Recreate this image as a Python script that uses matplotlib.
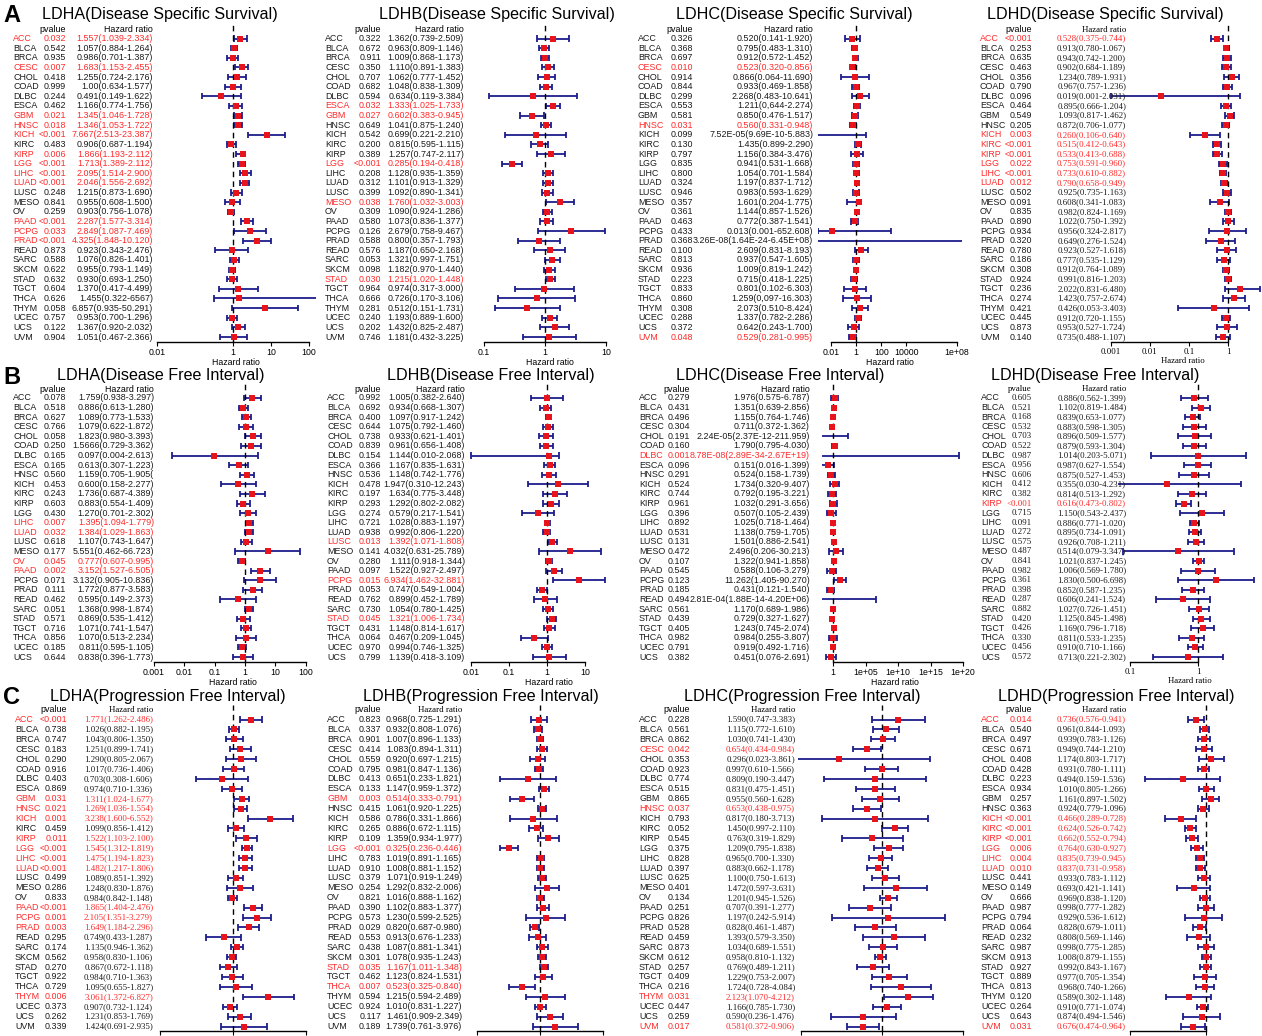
import re
import numpy as np
import matplotlib.pyplot as plt
from matplotlib.transforms import blended_transform_factory

cancers_32 = ["ACC", "BLCA", "BRCA", "CESC", "CHOL", "COAD", "DLBC", "ESCA", "GBM", "HNSC",
              "KICH", "KIRC", "KIRP", "LGG", "LIHC", "LUAD", "LUSC", "MESO", "OV", "PAAD",
              "PCPG", "PRAD", "READ", "SARC", "SKCM", "STAD", "TGCT", "THCA", "THYM", "UCEC",
              "UCS", "UVM"]
cancers_28 = ["ACC", "BLCA", "BRCA", "CESC", "CHOL", "COAD", "DLBC", "ESCA", "HNSC", "KICH",
              "KIRC", "KIRP", "LGG", "LIHC", "LUAD", "LUSC", "MESO", "OV", "PAAD", "PCPG",
              "PRAD", "READ", "SARC", "STAD", "TGCT", "THCA", "UCEC", "UCS"]

# ---- Disease Specific Survival ----
p_ldha_dss = ["0.032", "0.542", "0.935", "0.007", "0.418", "0.999", "0.244", "0.462", "0.021", "0.018",
              "<0.001", "0.483", "0.006", "<0.001", "<0.001", "<0.001", "0.248", "0.841", "0.259", "<0.001",
              "0.033", "<0.001", "0.873", "0.588", "0.622", "0.632", "0.604", "0.626", "0.058", "0.757",
              "0.122", "0.904"]
hr_ldha_dss = ["1.557(1.039-2.334)", "1.057(0.884-1.264)", "0.986(0.701-1.387)", "1.683(1.153-2.455)",
               "1.255(0.724-2.176)", "1.00(0.634-1.577)", "0.491(0.149-1.622)", "1.166(0.774-1.756)",
               "1.345(1.046-1.728)", "1.346(1.053-1.722)", "7.667(2.513-23.387)", "0.906(0.687-1.194)",
               "1.866(1.193-2.112)", "1.713(1.389-2.112)", "2.095(1.514-2.900)", "2.046(1.556-2.692)",
               "1.215(0.873-1.690)", "0.955(0.608-1.500)", "0.903(0.756-1.078)", "2.287(1.577-3.314)",
               "2.849(1.087-7.469)", "4.325(1.848-10.120)", "0.923(0.343-2.476)", "1.076(0.826-1.401)",
               "0.955(0.793-1.149)", "0.930(0.693-1.250)", "1.370(0.417-4.499)", "1.455(0.322-6567)",
               "6.857(0.935-50.291)", "0.953(0.700-1.296)", "1.367(0.920-2.032)", "1.051(0.467-2.366)"]

p_ldhb_dss = ["0.322", "0.672", "0.911", "0.350", "0.707", "0.682", "0.594", "0.032", "0.027", "0.649",
              "0.542", "0.200", "0.389", "<0.001", "0.208", "0.312", "0.399", "0.038", "0.309", "0.580",
              "0.126", "0.588", "0.576", "0.053", "0.098", "0.030", "0.964", "0.666", "0.281", "0.240",
              "0.202", "0.746"]
hr_ldhb_dss = ["1.362(0.739-2.509)", "0.963(0.809-1.146)", "1.009(0.868-1.173)", "1.110(0.891-1.383)",
               "1.062(0.777-1.452)", "1.048(0.838-1.309)", "0.634(0.119-3.384)", "1.333(1.025-1.733)",
               "0.602(0.383-0.945)", "1.041(0.875-1.240)", "0.699(0.221-2.210)", "0.815(0.595-1.115)",
               "1.257(0.747-2.117)", "0.285(0.194-0.418)", "1.128(0.935-1.359)", "1.101(0.913-1.329)",
               "1.092(0.890-1.341)", "1.760(1.032-3.003)", "1.090(0.924-1.286)", "1.073(0.836-1.377)",
               "2.679(0.758-9.467)", "0.800(0.357-1.793)", "1.187(0.650-2.168)", "1.321(0.997-1.751)",
               "1.182(0.970-1.440)", "1.215(1.020-1.448)", "0.974(0.317-3.000)", "0.726(0.170-3.106)",
               "0.512(0.151-1.731)", "1.193(0.889-1.600)", "1.432(0.825-2.487)", "1.181(0.432-3.225)"]

p_ldhc_dss = ["0.326", "0.368", "0.697", "0.010", "0.914", "0.844", "0.299", "0.553", "0.581", "0.031",
              "0.099", "0.130", "0.797", "0.835", "0.800", "0.324", "0.946", "0.357", "0.361", "0.463",
              "0.433", "0.368", "0.100", "0.813", "0.936", "0.223", "0.833", "0.860", "0.308", "0.288",
              "0.372", "0.048"]
hr_ldhc_dss = ["0.520(0.141-1.920)", "0.795(0.483-1.310)", "0.912(0.572-1.452)", "0.523(0.320-0.856)",
               "0.866(0.064-11.690)", "0.933(0.469-1.858)", "2.268(0.483-10.641)", "1.211(0,644-2.274)",
               "0.850(0.476-1.517)", "0.560(0.331-0.948)", "7.52E-05(9.69E-10-5.883)", "1.435(0.899-2.290)",
               "1.156(0.384-3.476)", "0.941(0.531-1.668)", "1.054(0.701-1.584)", "1.197(0.837-1.712)",
               "0.983(0.593-1.629)", "1.601(0.204-1.775)", "1.144(0.857-1.526)", "0.772(0.387-1.541)",
               "0.013(0.001-652.608)", "3.26E-08(1.64E-24-6.45E+08)", "2.609(0.831-8.193)", "0.937(0.547-1.605)",
               "1.009(0.819-1.242)", "0.715(0.418-1.225)", "0.801(0.102-6.303)", "1.259(0,097-16.303)",
               "2.073(0.510-8.424)", "1.337(0.782-2.286)", "0.642(0.243-1.700)", "0.529(0.281-0.995)"]

p_ldhd_dss = ["<0.001", "0.253", "0.635", "0.463", "0.356", "0.790", "0.096", "0.464", "0.549", "0.205",
              "0.003", "<0.001", "<0.001", "0.022", "<0.001", "0.012", "0.502", "0.091", "0.835", "0.890",
              "0.934", "0.320", "0.780", "0.186", "0.308", "0.924", "0.236", "0.274", "0.421", "0.445",
              "0.873", "0.140"]
hr_ldhd_dss = ["0.528(0.375-0.744)", "0.913(0.780-1.067)", "0.943(0.742-1.200)", "0.902(0.684-1.189)",
               "1.234(0.789-1.931)", "0.967(0.757-1.236)", "0.019(0.001-2.031)", "0.895(0.666-1.204)",
               "1.093(0.817-1.462)", "0.872(0.706-1.077)", "0.260(0.106-0.640)", "0.515(0.412-0.643)",
               "0.533(0.413-0.688)", "0.753(0.591-0.960)", "0.733(0.610-0.882)", "0.790(0.658-0.949)",
               "0.925(0.735-1.163)", "0.608(0.341-1.083)", "0.982(0.824-1.169)", "1.022(0.750-1.392)",
               "0.956(0.324-2.817)", "0.649(0.276-1.524)", "0.923(0.527-1.618)", "0.777(0.535-1.129)",
               "0.912(0.764-1.089)", "0.991(0.816-1.203)", "2.022(0.831-6.480)", "1.423(0.757-2.674)",
               "0.426(0.053-3.403)", "0.912(0.720-1.155)", "0.953(0.527-1.724)", "0.735(0.488-1.107)"]

# ---- Disease Free Interval ----
p_ldha_dfi = ["0.078", "0.518", "0.627", "0.766", "0.058", "0.250", "0.165", "0.165", "0.560", "0.453",
              "0.243", "0.603", "0.430", "0.007", "0.032", "0.618", "0.177", "0.045", "0.002", "0.071",
              "0.111", "0.462", "0.051", "0.571", "0.716", "0.856", "0.185", "0.644"]
hr_ldha_dfi = ["1.759(0.938-3.297)", "0.886(0.613-1.280)", "1.089(0.773-1.533)", "1.079(0.622-1.872)",
               "1.823(0.980-3.393)", "1.5666(0.729-3.362)", "0.097(0.004-2.613)", "0.613(0.307-1.223)",
               "1.159(0.705-1.905(", "0.600(0.158-2.277)", "1.736(0.687-4.389)", "0.883(0.554-1.409)",
               "1.270(0.701-2.302)", "1.395(1.094-1.779)", "1.384(1.029-1.863)", "1.107(0.743-1.647)",
               "5.551(0.462-66.723)", "0.777(0.607-0.995)", "3.152(1.527-6.505)", "3.132(0.905-10.836)",
               "1.772(0.877-3.583)", "0.595(0.149-2.373)", "1.368(0.998-1.874)", "0.869(0.535-1.412)",
               "1.071(0.741-1.547)", "1.070(0.513-2.234)", "0.811(0.595-1.105)", "0.838(0.396-1.773)"]

p_ldhb_dfi = ["0.992", "0.692", "0.400", "0.644", "0.738", "0.839", "0.154", "0.366", "0.536", "0.478",
              "0.197", "0.293", "0.274", "0.721", "0.938", "0.013", "0.141", "0.280", "0.097", "0.015",
              "0.053", "0.762", "0.730", "0.045", "0.431", "0.064", "0.970", "0.799"]
hr_ldhb_dfi = ["1.005(0.382-2.640)", "0.934(0.668-1.307)", "1.097(0.917-1.242)", "1.075(0.792-1.460)",
               "0.933(0.621-1.401)", "0.961(0.656-1.408)", "1.144(0.010-2.068)", "1.167(0.835-1.631)",
               "1.148(0.742-1.776)", "1.947(0.310-12.243)", "1.634(0.775-3.448)", "1.292(0.802-2.082)",
               "0.579(0.217-1.541)", "1.028(0.883-1.197)", "0.992(0.806-1.220)", "1.392(1.071-1.808)",
               "4.032(0.631-25.789)", "1.111(0.918-1.344)", "1.522(0.927-2.497)", "6.934(1.462-32.881)",
               "0.747(0.549-1.004)", "0.899(0.452-1.789)", "1.054(0.780-1.425)", "1.321(1.006-1.734)",
               "1.148(0.814-1.617)", "0.467(0.209-1.045)", "0.994(0.746-1.325)", "1.139(0.418-3.109)"]

p_ldhc_dfi = ["0.279", "0.431", "0.496", "0.304", "0.191", "0.160", "0.001", "0.096", "0.291", "0.524",
              "0.744", "0.961", "0.396", "0.892", "0.531", "0.131", "0.472", "0.107", "0.545", "0.123",
              "0.185", "0.494", "0.561", "0.439", "0.405", "0.982", "0.791", "0.382"]
hr_ldhc_dfi = ["1.976(0.575-6.787)", "1.351(0.639-2.856)", "1.155(0.764-1.746)", "0.711(0.372-1.362)",
               "2.24E-05(2.37E-12-211.959)", "1.790(0.795-4.030)", "8.78E-08(2.89E-34-2.67E+19)",
               "0.151(0.016-1.399)", "0.524(0.158-1.739)", "1.734(0.320-9.407)", "0.792(0.195-3.221)",
               "1.032(0.291-3.656)", "0.507(0.105-2.439)", "1.025(0.718-1.464)", "1.138(0.759-1.705)",
               "1.501(0.886-2.541)", "2.496(0.206-30.213)", "1.322(0.941-1.858)", "0.588(0.106-3.279)",
               "11.262(1.405-90.270)", "0.431(0.121-1.540)", "2.81E-04(1.88E-14-4.20E+06)",
               "1.170(0.689-1.986)", "0.729(0.327-1.627)", "1.243(0.745-2.074)", "0.984(0.255-3.807)",
               "0.919(0.492-1.716)", "0.451(0.076-2.691)"]

p_ldhd_dfi = ["0.605", "0.521", "0.168", "0.532", "0.703", "0.522", "0.987", "0.956", "0.606", "0.412",
              "0.382", "<0.001", "0.715", "0.091", "0.272", "0.575", "0.487", "0.841", "0.982", "0.361",
              "0.398", "0.287", "0.882", "0.420", "0.426", "0.330", "0.456", "0.572"]
hr_ldhd_dfi = ["0.886(0.562-1.399)", "1.102(0.819-1.484)", "0.839(0.653-1.077)", "0.883(0.598-1.305)",
               "0.896(0.509-1.577)", "0.879(0.593-1.304)", "1.014(0.203-5.071)", "0.987(0.627-1.554)",
               "0.875(0.527-1.453)", "0.355(0.030-4.231)", "0.814(0.513-1.292)", "0.616(0.473-0.802)",
               "1.150(0.543-2.437)", "0.886(0.771-1.020)", "0.895(0.734-1.091)", "0.926(0.708-1.211)",
               "0.514(0.079-3.347)", "1.021(0.837-1.245)", "1.006(0.569-1.780)", "1.830(0.500-6.698)",
               "0.852(0.587-1.235)", "0.606(0.241-1.524)", "1.027(0.726-1.451)", "1.125(0.845-1.498)",
               "1.169(0.796-1.718)", "0.811(0.533-1.235)", "0.910(0.710-1.166)", "0.713(0.221-2.302)"]

# ---- Progression Free Interval ----
p_ldha_pfi = ["<0.001", "0.738", "0.747", "0.183", "0.290", "0.916", "0.403", "0.869", "0.031", "0.021",
              "0.001", "0.459", "0.011", "<0.001", "<0.001", "<0.001", "0.499", "0.286", "0.833", "<0.001",
              "0.001", "0.003", "0.295", "0.174", "0.562", "0.270", "0.922", "0.729", "0.006", "0.373",
              "0.262", "0.339"]
hr_ldha_pfi = ["1.771(1.262-2.486)", "1.026(0.882-1.195)", "1.043(0.806-1.350)", "1.251(0.899-1.741)",
               "1.290(0.805-2.067)", "1.017(0.736-1.406)", "0.703(0.308-1.606)", "0.974(0.710-1.336)",
               "1.311(1.024-1.677)", "1.269(1.036-1.554)", "3.238(1.600-6.552)", "1.099(0.856-1.412)",
               "1.522(1.103-2.100)", "1.545(1.312-1.819)", "1.475(1.194-1.823)", "1.482(1.217-1.806)",
               "1.089(0.851-1.392)", "1.248(0.830-1.876)", "0.984(0.842-1.148)", "1.865(1.404-2.476)",
               "2.105(1.351-3.279)", "1.649(1.184-2.296)", "0.749(0.433-1.287)", "1.135(0.946-1.362)",
               "0.958(0.830-1.106)", "0.867(0.672-1.118)", "0.984(0.710-1.363)", "1.095(0.655-1.827)",
               "3.061(1.372-6.827)", "0.907(0.732-1.124)", "1.231(0.853-1.769)", "1.424(0.691-2.935)"]

p_ldhb_pfi = ["0.823", "0.337", "0.901", "0.414", "0.559", "0.795", "0.413", "0.133", "0.003", "0.415",
              "0.586", "0.265", "0.109", "<0.001", "0.783", "0.910", "0.379", "0.254", "0.821", "0.390",
              "0.573", "0.029", "0.553", "0.438", "0.301", "0.035", "0.462", "0.007", "0.594", "0.924",
              "0.117", "0.189"]
hr_ldhb_pfi = ["0.968(0.725-1.291)", "0.932(0.808-1.076)", "1.007(0.896-1.133)", "1.083(0.894-1.311)",
               "0.920(0.697-1.215)", "0.981(0.847-1.136)", "0.651(0.233-1.821)", "1.147(0.959-1.372)",
               "0.514(0.333-0.791)", "1.061(0.920-1.225)", "0.786(0.331-1.866)", "0.886(0.672-1.115)",
               "1.359(0.934-1.977)", "0.325(0.236-0.446)", "1.019(0.891-1.165)", "1.008(0.881-1.152)",
               "1.071(0.919-1.249)", "1.292(0.832-2.006)", "1.016(0.888-1.162)", "1.102(0.883-1.377)",
               "1.230(0.599-2.525)", "0.820(0.687-0.980)", "0.913(0.676-1.233)", "1.087(0.881-1.341)",
               "1.078(0.935-1.243)", "1.167(1.011-1.348)", "1.123(0.824-1.531)", "0.523(0.325-0.840)",
               "1.215(0.594-2.489)", "1.010(0.831-1.227)", "1.461(0.909-2.349)", "1.739(0.761-3.976)"]

p_ldhc_pfi = ["0.228", "0.561", "0.862", "0.042", "0.353", "0.923", "0.774", "0.515", "0.865", "0.037",
              "0.793", "0.052", "0.545", "0.375", "0.828", "0.397", "0.625", "0.401", "0.134", "0.251",
              "0.826", "0.528", "0.459", "0.873", "0.612", "0.257", "0.409", "0.216", "0.031", "0.447",
              "0.259", "0.017"]
hr_ldhc_pfi = ["1.590(0.747-3.383)", "1.115(0.772-1.610)", "1.030(0.741-1.430)", "0.654(0.434-0.984)",
               "0.296(0.023-3.861)", "0.997(0.610-1.566)", "0.809(0.190-3.447)", "0.831(0.475-1.451)",
               "0.955(0.560-1.628)", "0.653(0.438-0.975)", "0.817(0.180-3.713)", "1.450(0.997-2.110)",
               "0.763(0.319-1.829)", "1.209(0.795-1.838)", "0.965(0.700-1.330)", "0.883(0.662-1.178)",
               "1.100(0.750-1.613)", "1.472(0.597-3.631)", "1.201(0.945-1.526)", "0.707(0.391-1.277)",
               "1.197(0.242-5.914)", "0.828(0.461-1.487)", "1.393(0.579-3.350)", "1.034(0.689-1.551)",
               "0.958(0.810-1.132)", "0.769(0.489-1.211)", "1.229(0.753-2.007)", "1.724(0.728-4.084)",
               "2.123(1.070-4.212)", "1.166(0.785-1.730)", "0.590(0.236-1.476)", "0.581(0.372-0.906)"]

p_ldhd_pfi = ["0.014", "0.540", "0.497", "0.671", "0.408", "0.428", "0.223", "0.934", "0.257", "0.363",
              "<0.001", "<0.001", "<0.001", "0.006", "0.004", "0.010", "0.441", "0.149", "0.666", "0.987",
              "0.794", "0.064", "0.232", "0.987", "0.913", "0.927", "0.889", "0.813", "0.120", "0.264",
              "0.643", "0.031"]
hr_ldhd_pfi = ["0.736(0.576-0.941)", "0.961(0.844-1.093)", "0.939(0.783-1.126)", "0.949(0.744-1.210)",
               "1.174(0.803-1.717)", "0.931(0.780-1.111)", "0.494(0.159-1.536)", "1.010(0.805-1.266)",
               "1.161(0.897-1.502)", "0.924(0.779-1.096)", "0.466(0.289-0.728)", "0.624(0.526-0.742)",
               "0.662(0.552-0.794)", "0.764(0.630-0.927)", "0.835(0.739-0.945)", "0.837(0.731-0.958)",
               "0.933(0.783-1.112)", "0.693(0.421-1.141)", "0.969(0.838-1.120)", "0.998(0.777-1.282)",
               "0.929(0.536-1.612)", "0.828(0.679-1.011)", "0.808(0.569-1.146)", "0.998(0.775-1.285)",
               "1.008(0.879-1.155)", "0.992(0.843-1.167)", "0.977(0.705-1.354)", "0.968(0.740-1.266)",
               "0.589(0.302-1.148)", "0.910(0.771-1.074)", "0.874(0.494-1.546)", "0.676(0.474-0.964)"]

# rows printed in red (significant) per panel
sig_ldha_dss = ["ACC", "CESC", "GBM", "HNSC", "KICH", "KIRP", "LGG", "LIHC", "LUAD", "PAAD", "PCPG", "PRAD"]
sig_ldhb_dss = ["ESCA", "GBM", "LGG", "MESO", "STAD"]
sig_ldhc_dss = ["CESC", "HNSC", "UVM"]
sig_ldhd_dss = ["ACC", "KICH", "KIRC", "KIRP", "LGG", "LIHC", "LUAD"]
sig_ldha_dfi = ["LIHC", "LUAD", "OV", "PAAD"]
sig_ldhb_dfi = ["LUSC", "PCPG", "STAD"]
sig_ldhc_dfi = ["DLBC"]
sig_ldhd_dfi = ["KIRP"]
sig_ldha_pfi = ["ACC", "GBM", "HNSC", "KICH", "KIRP", "LGG", "LIHC", "LUAD", "PAAD", "PCPG", "PRAD", "THYM"]
sig_ldhb_pfi = ["GBM", "LGG", "STAD", "THCA"]
sig_ldhc_pfi = ["CESC", "HNSC", "THYM", "UVM"]
sig_ldhd_pfi = ["ACC", "KICH", "KIRC", "KIRP", "LGG", "LIHC", "LUAD", "UVM"]

NUM = r"\d+(?:[.,]\d+)?(?:E[+-]\d+)?"


def parse_hr(s):
    m = re.match(rf"({NUM})\(({NUM})-({NUM})", s)
    return [float(v.replace(",", ".")) for v in m.groups()]


W, H = 1262, 1036
fig = plt.figure(figsize=(W / 100, H / 100), dpi=100)
SANS = ["Liberation Sans", "DejaVu Sans"]
SERIF = ["Liberation Serif", "DejaVu Serif"]
plt.rcParams["font.family"] = SANS

RED = "#ff2a2a"
NAVY = "#1c1c8c"
MARK = "#e8141c"
FS = 6.4

# row bands: (title y, header y, first row y, last row y, axis y)
bands = {
    "A": (15, 29.5, 38.5, 337, 342),
    "B": (376, 389, 398, 657, 662),
    "C": (697, 710, 719.5, 1026.5, 1031),
}
col_left = [0, 322, 636, 950]

# per panel: band, column, gene, endpoint, rows, pvalues, HR labels, red rows,
# name x, pvalue right, HR right, title centre (px from column),
# axis left/right (absolute px), px of HR=1, px per decade, ticks,
# fonts for pvalue column, HR column, HR header and axis
panels = [
    ("A", 0, "LDHA", "Disease Specific Survival", cancers_32, p_ldha_dss, hr_ldha_dss, sig_ldha_dss,
     13, 66, 153, 160, 156, 316, 233, 38, [0.01, 1, 10, 100], SANS, SANS, SANS),
    ("A", 1, "LDHB", "Disease Specific Survival", cancers_32, p_ldhb_dss, hr_ldhb_dss, sig_ldhb_dss,
     3, 59, 142, 175, 470, 630, 545, 61, [0.1, 1, 10], SANS, SANS, SANS),
    ("A", 2, "LDHC", "Disease Specific Survival", cancers_32, p_ldhc_dss, hr_ldhc_dss, sig_ldhc_dss,
     2, 57, 177, 158, 818, 962, 856, 12.6, [0.01, 1, 100, 1e4, 1e8], SANS, SANS, SANS),
    ("A", 3, "LDHD", "Disease Specific Survival", cancers_32, p_ldhd_dss, hr_ldhd_dss, sig_ldhd_dss,
     30, 82, 176, 155, 1104, 1262, 1228, 39, [0.001, 0.01, 0.1, 1, 10], SANS, SERIF, SERIF),
    ("B", 0, "LDHA", "Disease Free Interval", cancers_28, p_ldha_dfi, hr_ldha_dfi, sig_ldha_dfi,
     13, 66, 154, 161, 150, 316, 245, 30.4, [0.001, 0.01, 0.1, 1, 10, 100], SANS, SANS, SANS),
    ("B", 1, "LDHB", "Disease Free Interval", cancers_28, p_ldhb_dfi, hr_ldhb_dfi, sig_ldhb_dfi,
     5, 59, 143, 169, 468, 630, 547, 38, [0.01, 0.1, 1, 10], SANS, SANS, SANS),
    ("B", 2, "LDHC", "Disease Free Interval", cancers_28, p_ldhc_dfi, hr_ldhc_dfi, sig_ldhc_dfi,
     3, 54, 174, 144, 822, 968, 833, 6.5, [1, 1e5, 1e10, 1e15, 1e20], SANS, SANS, SANS),
    ("B", 3, "LDHD", "Disease Free Interval", cancers_28, p_ldhd_dfi, hr_ldhd_dfi, sig_ldhd_dfi,
     31, 82, 176, 145, 1118, 1262, 1198, 68, [0.1, 1, 10], SERIF, SERIF, SERIF),
    ("C", 0, "LDHA", "Progression Free Interval", cancers_32, p_ldha_pfi, hr_ldha_pfi, sig_ldha_pfi,
     15, 67, 153, 168, 156, 316, 233, 73, [0.1, 1, 10], SANS, SERIF, SERIF),
    ("C", 1, "LDHB", "Progression Free Interval", cancers_32, p_ldhb_pfi, hr_ldhb_pfi, sig_ldhb_pfi,
     5, 59, 140, 159, 474, 630, 540, 63, [0.1, 1, 10], SANS, SANS, SERIF),
    ("C", 2, "LDHC", "Progression Free Interval", cancers_32, p_ldhc_pfi, hr_ldhc_pfi, sig_ldhc_pfi,
     3, 54, 159, 166, 798, 968, 882, 81, [0.1, 1, 10], SANS, SERIF, SERIF),
    ("C", 3, "LDHD", "Progression Free Interval", cancers_32, p_ldhd_pfi, hr_ldhd_pfi, sig_ldhd_pfi,
     31, 82, 176, 166, 1118, 1262, 1206, 76, [0.1, 1], SANS, SERIF, SERIF),
]


def tick_text(t):
    if t >= 1e5:
        return f"1e+{int(round(np.log10(t))):02d}"
    return f"{t:g}"


for (band, col, gene, endpoint, names, pvals, hrs, sig,
     name_x, pval_r, hr_r, title_x, ax_l, ax_r, one_px, dec, ticks,
     pfont, hfont, afont) in panels:
    title_y, head_y, first_y, last_y, axis_y = bands[band]
    n = len(names)
    step = (last_y - first_y) / (n - 1)
    x0 = col_left[col]
    top_px = title_y + 8
    ax = fig.add_axes([ax_l / W, 1 - axis_y / H, (ax_r - ax_l) / W, (axis_y - top_px) / H])
    ax.set_xscale("log")
    ax.set_xlim(10 ** ((ax_l - one_px) / dec), 10 ** ((ax_r - one_px) / dec))
    ax.set_ylim((axis_y - first_y) / step, (top_px - first_y) / step)
    lo_lim, hi_lim = ax.get_xlim()

    # confidence intervals with end caps, HR as a red square
    vals = np.array([parse_hr(s) for s in hrs])
    rows = np.arange(n)
    ax.hlines(rows, vals[:, 1], vals[:, 2], color=NAVY, lw=1.3)
    for r, (lo, hi) in zip(rows, vals[:, 1:]):
        for v in (lo, hi):
            if lo_lim <= v <= hi_lim:
                ax.vlines(v, r - 0.32, r + 0.32, color=NAVY, lw=1.3)
    ax.scatter(vals[:, 0], rows, marker="s", s=18, color=MARK, zorder=3, linewidths=0)
    ax.axvline(1, color="black", ls=(0, (4, 3)), lw=1)

    for s in ("top", "right", "left"):
        ax.spines[s].set_visible(False)
    ax.set_yticks([])
    ticks = [t for t in ticks if lo_lim <= t <= hi_lim]
    ax.spines["bottom"].set_bounds(ticks[0], ticks[-1])
    ax.spines["bottom"].set_linewidth(1)
    ax.set_xticks(ticks)
    ax.set_xticklabels([tick_text(t) for t in ticks], family=afont)
    ax.minorticks_off()
    ax.tick_params(axis="x", labelsize=6.3, length=3, width=0.8, pad=1)
    ax.set_xlabel("Hazard ratio", fontsize=6.3, labelpad=1, family=afont)

    # table columns: cancer, p value, HR (95% CI)
    tr = blended_transform_factory(fig.transFigure, ax.transData)
    for r, (nm, pv, hr) in enumerate(zip(names, pvals, hrs)):
        c = RED if nm in sig else "#1a1a1a"
        ax.text((x0 + name_x) / W, r, nm, transform=tr, fontsize=FS, color=c, va="center", ha="left")
        ax.text((x0 + pval_r) / W, r, pv, transform=tr, fontsize=FS, color=c, va="center", ha="right",
                family=pfont)
        ax.text((x0 + hr_r) / W, r, hr, transform=tr, fontsize=FS, color=c, va="center", ha="right",
                family=hfont)
    head_r = (head_y - first_y) / step
    ax.text((x0 + pval_r) / W, head_r, "pvalue", transform=tr, fontsize=FS, va="center", ha="right",
            family=pfont)
    ax.text((x0 + hr_r) / W, head_r, "Hazard ratio", transform=tr, fontsize=FS, va="center", ha="right",
            family=afont)
    fig.text((x0 + title_x) / W, 1 - title_y / H, f"{gene}({endpoint})", fontsize=11.6,
             ha="center", va="center")

for letter, y in (("A", 15), ("B", 377), ("C", 697)):
    fig.text(3 / W, 1 - y / H, letter, fontsize=17, fontweight="bold", ha="left", va="center")

fig.savefig("out.png", dpi=100)
